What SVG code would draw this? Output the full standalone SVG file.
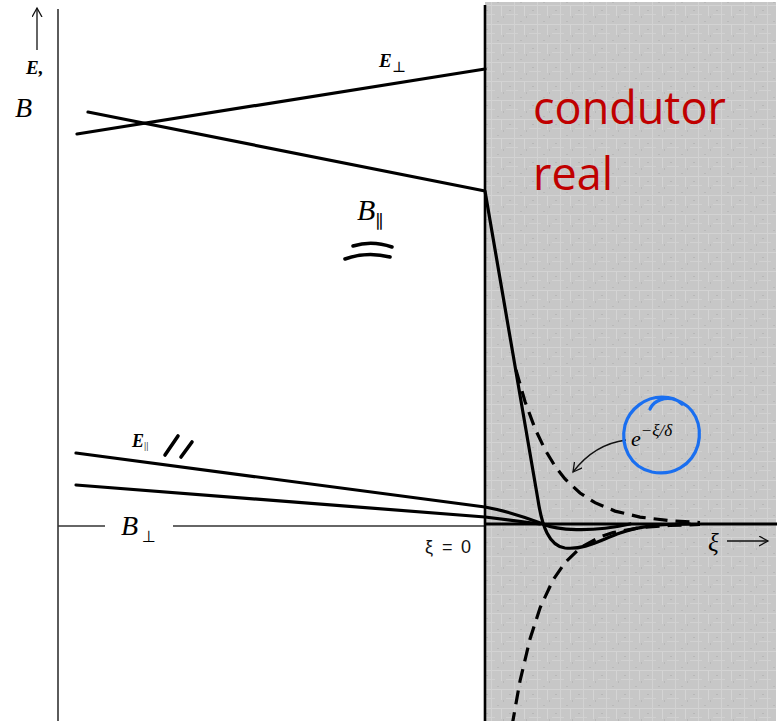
<svg xmlns="http://www.w3.org/2000/svg" width="781" height="721" viewBox="0 0 781 721">
<style>
.ax{stroke:#333;stroke-width:1.6;fill:none}
.cv{stroke:#000;stroke-width:3.2;fill:none;stroke-linecap:round;stroke-linejoin:round}
.ds{stroke:#000;stroke-width:3.2;fill:none;stroke-dasharray:14 8}
.thin{stroke:#111;stroke-width:1.3;fill:none}
.hand{stroke:#000;stroke-width:3.6;fill:none;stroke-linecap:round}
.it{font-family:"Liberation Serif","DejaVu Serif",serif;font-style:italic;fill:#000}
.bi{font-family:"Liberation Serif","DejaVu Serif",serif;font-style:italic;font-weight:bold;fill:#000}
.red{font-family:"Open Sans","Liberation Sans",sans-serif;font-size:45px;fill:#c00000}
</style>
<defs>
<pattern id="tex" width="23" height="19" patternUnits="userSpaceOnUse">
<rect width="23" height="19" fill="#c7c7c7"/>
<rect x="0" y="5" width="23" height="1" fill="#d3d3d3"/>
<rect x="0" y="14" width="12" height="1" fill="#d1d1d1"/>
<rect x="8" y="0" width="1" height="19" fill="#d2d2d2"/>
<rect x="18" y="6" width="1" height="10" fill="#d4d4d4"/>
<rect x="3" y="10" width="2" height="1" fill="#b7b7b7"/>
<rect x="14" y="2" width="2" height="1" fill="#b9b9b9"/>
<rect x="20" y="16" width="1" height="2" fill="#b8b8b8"/>
</pattern>
<marker id="arr" markerWidth="12" markerHeight="12" refX="9" refY="5" orient="auto" markerUnits="userSpaceOnUse">
<path d="M0,0 L9,5 L0,10" fill="none" stroke="#111" stroke-width="1.3"/>
</marker>
</defs>

<rect id="conductor" x="485" y="2" width="291" height="719" fill="url(#tex)"/>

<g id="axes">
<line class="ax" x1="58" y1="9" x2="58" y2="721"/>
<line class="ax" x1="58" y1="526" x2="105" y2="526"/>
<line class="ax" x1="173" y1="526" x2="485" y2="526"/>
<line x1="485" y1="524" x2="777" y2="524" stroke="#000" stroke-width="3"/>
<line x1="485" y1="5" x2="485" y2="721" stroke="#000" stroke-width="2.6"/>
<line class="thin" x1="37" y1="50" x2="37" y2="8" marker-end="url(#arr)"/>
<line class="thin" x1="727" y1="541" x2="768" y2="541" marker-end="url(#arr)"/>
</g>

<g id="connectors">
<path id="E_perp" class="cv" d="M77,134 L485,69"/>
<path id="B_par" class="cv" d="M88,112 L485,191 L538,500 C542,526 549,546 565,548 C585,550 600,540 620,533 C640,526 660,524 690,524"/>
<path id="E_par" class="cv" d="M76,453 L485,507 C512,512 530,519 543,524 C556,530 590,533 630,524"/>
<path id="B_perp" class="cv" d="M76,485 L485,517 L540,524"/>
<path id="exp_pos" class="ds" d="M516,370 L525,401.5 L535,428.6 L545,449.7 L555,466.1 L565,478.9 L580,493 L595,502.7 L615,511.1 L640,517.1 L670,520.7 L700,522.5"/>
<path id="exp_neg" class="ds" d="M512,726 L520,681 L530,639 L540,608 L553,580 L565,562.6 L580,548 L600,537 L613,532.6 L640,527.7 L670,525.4 L700,524.5"/>
<path id="label_arrow" class="thin" d="M626,440 C603,443 586,455 573,472" marker-end="url(#arr)"/>
</g>

<g id="label_EB">
<text class="bi" x="26" y="74" font-size="19">E,</text>
<text class="it" x="15" y="117" font-size="28">B</text>
</g>

<g id="label_Eperp">
<text class="bi" x="379" y="67" font-size="19">E<tspan font-size="15" font-weight="normal" font-style="normal" dy="5">⊥</tspan></text>
</g>

<g id="label_Bpar">
<text class="it" x="357" y="220" font-size="30">B<tspan font-size="18" font-style="normal" dy="8">∥</tspan></text>
<path class="hand" d="M353,246 Q372,240 392,247"/>
<path class="hand" d="M345,259 Q367,251 390,257"/>
</g>

<g id="label_Epar">
<text class="bi" x="132" y="447" font-size="18">E<tspan font-size="11" font-weight="normal" font-style="normal" dy="2">||</tspan></text>
<path class="hand" stroke-width="3" d="M165,455 L178,436"/>
<path class="hand" stroke-width="3" d="M181,457 L192,442"/>
</g>

<g id="label_Bperp">
<text class="it" x="121" y="535" font-size="28">B</text>
<text x="142" y="542" font-size="16" font-family="'DejaVu Sans',sans-serif" fill="#000">⊥</text>
</g>

<g id="label_xi0">
<text x="425 435 442 455 461" y="553" font-size="18" font-family="'Liberation Sans',sans-serif" fill="#111">ξ = 0</text>
</g>

<g id="label_xi">
<text class="it" x="708" y="551" font-size="25">ξ</text>
</g>

<g id="label_exp">
<text class="it" x="631" y="446" font-size="22">e<tspan font-size="17" dy="-10">−ξ/δ</tspan></text>
<path d="M650,409 C654,400 666,396 676,400 C694,406 703,424 698,445 C692,466 672,476 652,472 C630,467 620,446 625,425 C630,408 646,397 662,397 C670,397 678,400 682,404" fill="none" stroke="#1a6ff0" stroke-width="3.2" stroke-linecap="round"/>
</g>

<g id="label_conductor">
<text class="red" x="533" y="124">condutor</text>
<text class="red" x="533" y="190">real</text>
</g>
</svg>
